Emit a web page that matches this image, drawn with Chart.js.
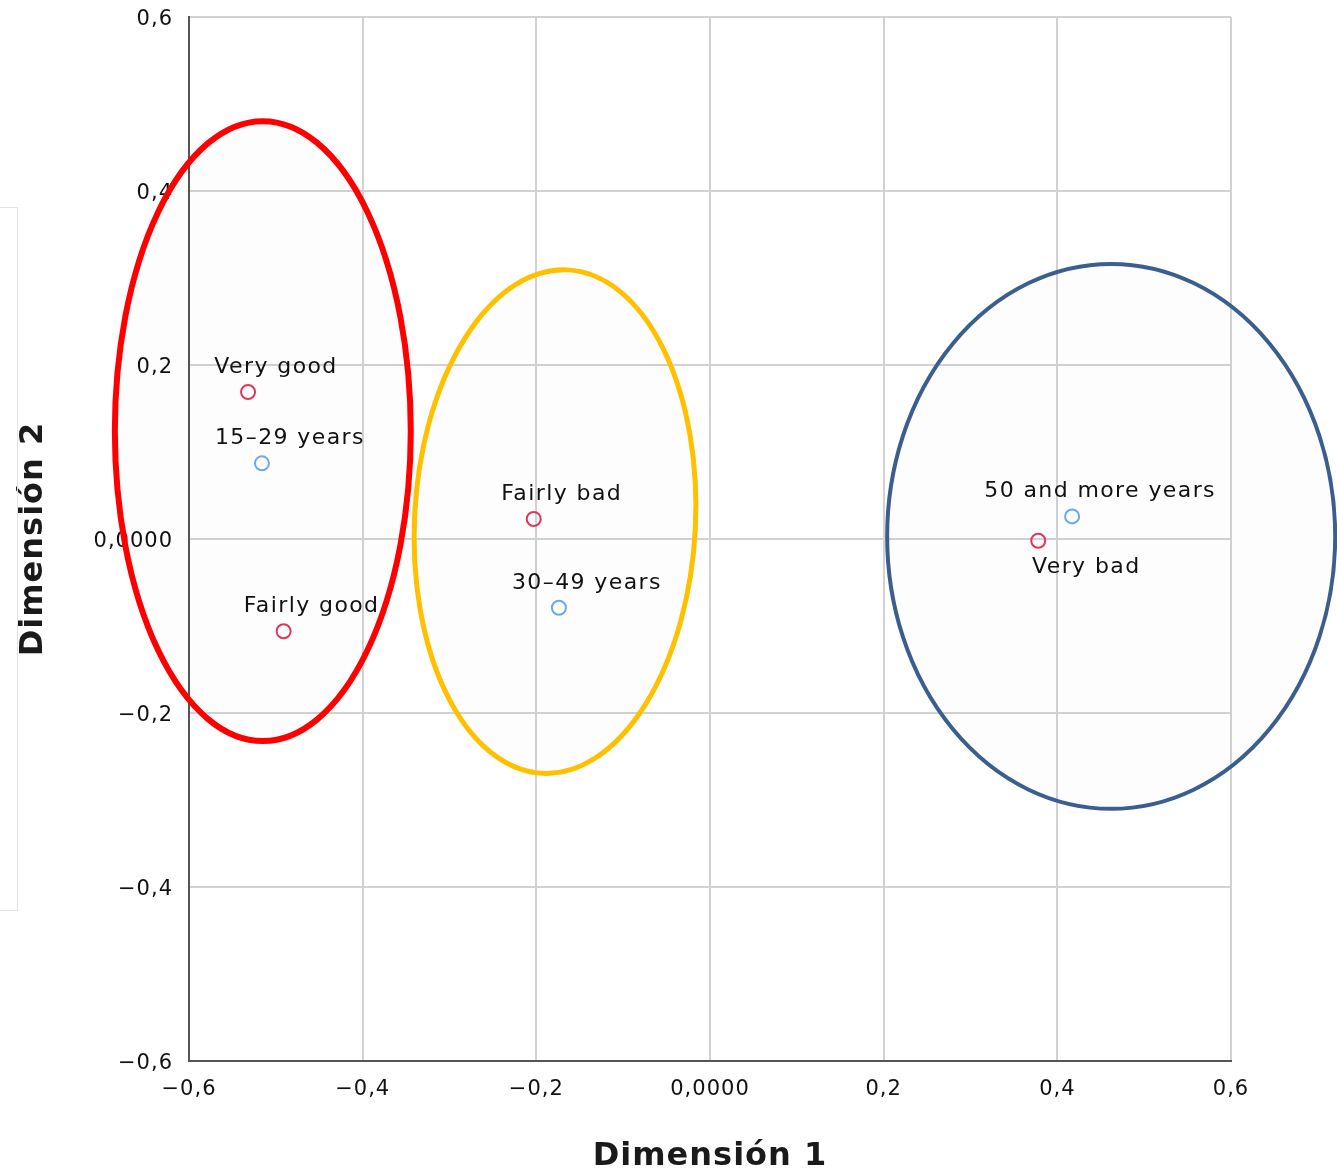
<!DOCTYPE html>
<html>
<head>
    <title>Dimensión 1 / Dimensión 2</title>
    <script src="https://cdn.jsdelivr.net/npm/chart.js"></script>
    <style>
        body { margin: 0; background: #fff; }
        #wrap { width: 1337px; height: 1176px; }
    </style>
</head>
<body>
    <div id="wrap">
        <canvas id="ca-chart" width="1337" height="1176"></canvas>
    </div>

    <script>
        // row points (health rating)
        const healthLabels = ['Very good', 'Fairly good', 'Fairly bad', 'Very bad'];
        const healthX = [-0.532, -0.491, -0.203, 0.378];
        const healthY = [0.169, -0.106, 0.023, -0.002];
        const healthLabelPos = ['above', 'above', 'above', 'below'];

        // column points (age group)
        const ageLabels = ['15–29 years', '30–49 years', '50 and more years'];
        const ageX = [-0.516, -0.174, 0.417];
        const ageY = [0.087, -0.079, 0.026];
        const ageLabelPos = ['above', 'above', 'above'];

        // axis ticks
        const tickValues = [-0.6, -0.4, -0.2, 0, 0.2, 0.4, 0.6];
        const tickLabels = ['−0,6', '−0,4', '−0,2', '0,0000', '0,2', '0,4', '0,6'];

        // group ellipses, in data units
        const groupCx = [-0.515, -0.1785, 0.462];
        const groupCy = [0.124, 0.020, 0.003];
        const groupRx = [0.1704, 0.1618, 0.258];
        const groupRy = [0.3563, 0.2897, 0.3132];
        const groupTilt = [0, 0.05, 0];
        const groupColors = ['#ff0000', '#ffc000', '#3a5f8f'];
        const groupWidths = [6, 5, 4];

        const toPoints = (xs, ys) => xs.map((x, i) => ({ x: x, y: ys[i] }));

        const ellipsePlugin = {
            id: 'groups',
            beforeDatasetsDraw(chart) {
                const ctx = chart.ctx;
                const xs = chart.scales.x, ys = chart.scales.y;
                ctx.save();
                // faint frame at the left edge
                ctx.strokeStyle = '#e4e4e4';
                ctx.lineWidth = 1;
                ctx.strokeRect(-2, 207.5, 19.5, 703);
                groupCx.forEach((cx, i) => {
                    const px = xs.getPixelForValue(cx);
                    const py = ys.getPixelForValue(groupCy[i]);
                    const rx = Math.abs(xs.getPixelForValue(cx + groupRx[i]) - px);
                    const ry = Math.abs(ys.getPixelForValue(groupCy[i] + groupRy[i]) - py);
                    ctx.beginPath();
                    ctx.ellipse(px, py, rx, ry, groupTilt[i], 0, Math.PI * 2);
                    ctx.fillStyle = 'rgba(0,0,0,0.008)';
                    ctx.fill();
                    ctx.strokeStyle = groupColors[i];
                    ctx.lineWidth = groupWidths[i];
                    ctx.stroke();
                });
                ctx.restore();
            }
        };

        const labelPlugin = {
            id: 'pointLabels',
            afterDatasetsDraw(chart) {
                const ctx = chart.ctx;
                ctx.save();
                ctx.font = '22px "DejaVu Sans"';
                ctx.letterSpacing = '1.4px';
                ctx.fillStyle = '#111';
                ctx.textAlign = 'center';
                ctx.textBaseline = 'alphabetic';
                chart.data.datasets.forEach((ds, d) => {
                    const meta = chart.getDatasetMeta(d);
                    meta.data.forEach((pt, i) => {
                        const below = ds.labelPos[i] === 'below';
                        const dx = below ? 48 : 28;
                        const dy = below ? 32 : -19;
                        ctx.fillText(ds.names[i], pt.x + dx, pt.y + dy);
                    });
                });
                ctx.restore();
            }
        };

        const spacingPlugin = {
            id: 'spacing',
            beforeDraw(chart) {
                chart.ctx.letterSpacing = '1px';
            }
        };

        const ctx = document.getElementById('ca-chart').getContext('2d');
        const caChart = new Chart(ctx, {
            type: 'scatter',
            data: {
                datasets: [{
                    label: 'Health',
                    names: healthLabels,
                    labelPos: healthLabelPos,
                    data: toPoints(healthX, healthY),
                    borderColor: '#e3345c',
                    backgroundColor: 'rgba(255,255,255,0)',
                    borderWidth: 2,
                    pointRadius: 7,
                    pointHoverRadius: 7
                },
                {
                    label: 'Age',
                    names: ageLabels,
                    labelPos: ageLabelPos,
                    data: toPoints(ageX, ageY),
                    borderColor: '#6ea6f0',
                    backgroundColor: 'rgba(255,255,255,0)',
                    borderWidth: 2,
                    pointRadius: 7,
                    pointHoverRadius: 7
                }]
            },
            options: {
                responsive: false,
                animation: false,
                layout: { padding: { top: 17, right: 106, left: 0, bottom: 0 } },
                plugins: {
                    legend: { display: false },
                    tooltip: { enabled: false }
                },
                scales: {
                    x: {
                        type: 'linear',
                        position: 'bottom',
                        min: -0.6,
                        max: 0.6,
                        afterBuildTicks: s => { s.ticks = tickValues.map(v => ({ value: v })); },
                        afterFit: s => { s.height = 115; },
                        ticks: {
                            callback: (v, i) => tickLabels[i],
                            padding: 16,
                            color: '#111',
                            font: { family: 'DejaVu Sans', size: 21 },
                            maxRotation: 0
                        },
                        grid: { color: '#d2d2d2', lineWidth: 2, drawTicks: false },
                        border: { color: '#555', width: 2 },
                        title: {
                            display: true,
                            text: 'Dimensión 1',
                            color: '#1a1a1a',
                            font: { family: 'DejaVu Sans', size: 32, weight: 'bold' },
                            padding: { top: 0, bottom: 0 }
                        }
                    },
                    y: {
                        type: 'linear',
                        min: -0.6,
                        max: 0.6,
                        afterBuildTicks: s => { s.ticks = tickValues.map(v => ({ value: v })); },
                        afterFit: s => { s.width = 189; s.paddingTop = 0; s.paddingBottom = 0; },
                        ticks: {
                            callback: (v, i) => tickLabels[i],
                            padding: 16,
                            labelOffset: 3,
                            color: '#111',
                            font: { family: 'DejaVu Sans', size: 21 }
                        },
                        grid: { color: '#d2d2d2', lineWidth: 2, drawTicks: false },
                        border: { color: '#555', width: 2 },
                        title: {
                            display: true,
                            text: 'Dimensión 2',
                            color: '#1a1a1a',
                            font: { family: 'DejaVu Sans', size: 32, weight: 'bold' },
                            padding: { top: 14, bottom: 0 }
                        }
                    }
                }
            },
            plugins: [spacingPlugin, ellipsePlugin, labelPlugin]
        });
    </script>
</body>
</html>
